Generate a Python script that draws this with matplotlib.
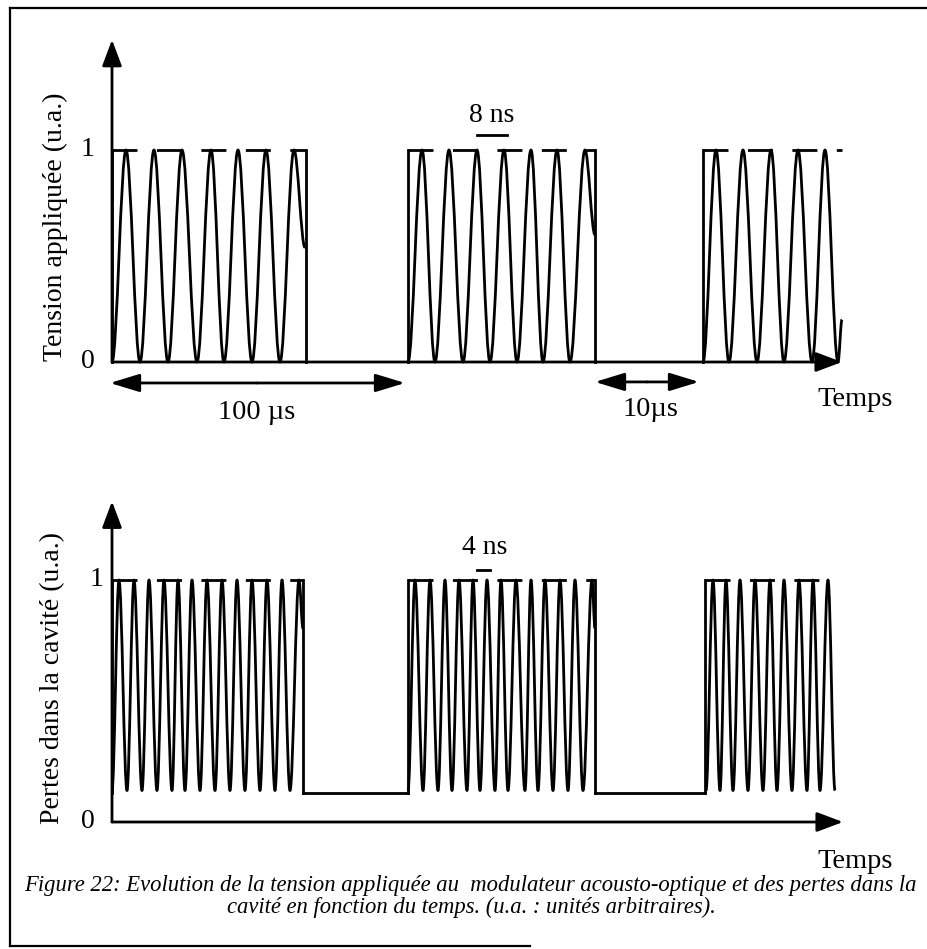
#!/usr/bin/env python3
"""
Figure 22 - tension appliquée au modulateur acousto-optique et pertes dans la cavité
(schéma, unités arbitraires)
"""

import matplotlib

matplotlib.use("Agg")
import matplotlib.pyplot as plt
from matplotlib.lines import Line2D
from matplotlib.patches import ArrowStyle, PathPatch
from matplotlib.path import Path

# --- données (temps en u.a., amplitude en u.a.) ---
# tension appliquée : sommets de la sinusoïde, bloc par bloc
top_t_1 = [0, 14, 28, 42, 56, 70, 85, 99, 112, 126, 140, 154, 168, 182, 193]
top_v_1 = [0, 1, 0, 1, 0, 1, 0, 1, 0, 1, 0, 1, 0, 1, 0.54]
top_t_2 = [296, 310, 323, 337, 351, 365, 378, 392, 405, 419, 431, 445, 458, 473, 483]
top_v_2 = [0, 1, 0, 1, 0, 1, 0, 1, 0, 1, 0, 1, 0, 1, 0.6]
top_t_3 = [591, 604, 617, 631, 645, 659, 672, 686, 700, 713, 726, 730]
top_v_3 = [0, 1, 0, 1, 0, 1, 0, 1, 0, 1, 0, 0.2]
top_gate_on = [0, 296, 591]
top_gate_off = [194, 483, 730]
top_low = 0.0

# pertes dans la cavité
bot_t_1 = [0, 7, 15, 22, 30, 37, 45, 52, 60, 66, 73, 80, 88, 95, 103, 110,
           118, 125, 133, 140, 148, 155, 163, 170, 178, 187, 191]
bot_v_1 = [0.13, 1, 0.13, 1, 0.13, 1, 0.13, 1, 0.13, 1, 0.13, 1, 0.13, 1,
           0.13, 1, 0.13, 1, 0.13, 1, 0.13, 1, 0.13, 1, 0.13, 1, 0.8]
bot_t_2 = [296, 303, 311, 318, 326, 333, 340, 347, 355, 361, 368, 375, 383,
           389, 396, 404, 413, 419, 426, 433, 441, 448, 456, 463, 471, 480, 483]
bot_v_2 = [0.13, 1, 0.13, 1, 0.13, 1, 0.13, 1, 0.13, 1, 0.13, 1, 0.13, 1,
           0.13, 1, 0.13, 1, 0.13, 1, 0.13, 1, 0.13, 1, 0.13, 1, 0.8]
bot_t_3 = [594, 601, 608, 614, 621, 628, 636, 643, 651, 658, 665, 672, 680,
           687, 695, 701, 708, 716, 723]
bot_v_3 = [0.13, 1, 0.13, 1, 0.13, 1, 0.13, 1, 0.13, 1, 0.13, 1, 0.13, 1,
           0.13, 1, 0.13, 1, 0.13]
bot_gate_on = [0, 296, 593]
bot_gate_off = [191, 483, 723]
bot_low = 0.12

TOP_YLABEL = "Tension appliquée (u.a.)"
BOT_YLABEL = "Pertes dans la cavité (u.a.)"
CAPTION_1 = ("Figure 22: Evolution de la tension appliquée au  modulateur "
             "acousto-optique et des pertes dans la")
CAPTION_2 = "cavité en fonction du temps. (u.a. : unités arbitraires)."

W, H, DPI = 928, 949, 100
SERIF = ["Liberation Serif", "DejaVu Serif"]
LW = 2.0
DASH = (0, (9, 7))
FS = 20


def make_panel(fig, py_top, py_bot, py_zero, py_one, px_origin):
    """axe couvrant toute la largeur, 1 u.a. de temps = 1 pixel"""
    ax = fig.add_axes([0, 1 - py_bot / H, 1, (py_bot - py_top) / H])
    scale = py_one - py_zero
    ax.set_xlim(-px_origin, W - px_origin)
    ax.set_ylim((py_bot - py_zero) / scale, (py_top - py_zero) / scale)
    ax.set_axis_off()
    return ax


def arrow(ax, xy_from, xy_to, style="-|>", hl=16, hw=6, lw=LW):
    ax.annotate(
        "",
        xy=xy_to,
        xytext=xy_from,
        arrowprops=dict(
            arrowstyle=ArrowStyle(style, head_length=hl, head_width=hw),
            mutation_scale=1,
            lw=lw,
            color="black",
            shrinkA=0,
            shrinkB=0,
        ),
        annotation_clip=False,
    )


def wave_path(t, v):
    """courbe lisse entre les extrema (tangentes horizontales, allure sinusoïdale)"""
    k = 0.3634
    verts = [(t[0], v[0])]
    codes = [Path.MOVETO]
    for i in range(1, len(t)):
        d = t[i] - t[i - 1]
        verts += [(t[i - 1] + k * d, v[i - 1]), (t[i] - k * d, v[i]), (t[i], v[i])]
        codes += [Path.CURVE4] * 3
    return Path(verts, codes)


def draw_signal(ax, blocks, gate_on, gate_off, low, last_cut=True):
    for t, v in blocks:
        ax.add_patch(
            PathPatch(wave_path(t, v), fill=False, lw=LW, edgecolor="black",
                      joinstyle="round", clip_on=False)
        )

    n = len(gate_on)
    for i, (on, off) in enumerate(zip(gate_on, gate_off)):
        # niveau haut en pointillés
        ax.plot([on, off], [1, 1], color="black", lw=LW, linestyle=DASH,
                clip_on=False)
        ax.plot([on, on], [low, 1], color="black", lw=LW, clip_on=False)
        if i < n - 1 or not last_cut:
            ax.plot([off, off], [low, 1], color="black", lw=LW, clip_on=False)
        # niveau bas entre deux blocs
        if i < n - 1 and low > 0:
            ax.plot([off, gate_on[i + 1]], [low, low], color="black", lw=LW,
                    clip_on=False)


def main():
    fig = plt.figure(figsize=(W / DPI, H / DPI), dpi=DPI)
    fig.patch.set_facecolor("white")

    # --- panneau du haut : tension appliquée ---
    ax1 = make_panel(fig, 0, 470, 362, 150, 112)
    arrow(ax1, (0, 0), (0, 1.52))
    arrow(ax1, (0, 0), (730, 0))
    draw_signal(
        ax1,
        [(top_t_1, top_v_1), (top_t_2, top_v_2), (top_t_3, top_v_3)],
        top_gate_on,
        top_gate_off,
        top_low,
    )
    ax1.text(-24, 1, "1", ha="center", va="center", fontsize=FS, family=SERIF)
    ax1.text(-24, 0, "0", ha="center", va="center", fontsize=FS, family=SERIF)
    ax1.text(-57, 0.64, TOP_YLABEL, rotation=90, ha="center", va="center",
             fontsize=FS, family=SERIF)

    # 8 ns
    ax1.text(380, 1.165, "8 ns", ha="center", va="center", fontsize=FS,
             family=SERIF)
    ax1.plot([365, 395], [1.07, 1.07], color="black", lw=LW, clip_on=False)

    # durées
    arrow(ax1, (145, -0.099), (-2, -0.099), style="-|>", hl=18, hw=5.5)
    arrow(ax1, (145, -0.099), (293, -0.099), style="-|>", hl=18, hw=5.5)
    ax1.text(145, -0.24, "100 µs", ha="center", va="center", fontsize=20.5,
             family=SERIF)
    arrow(ax1, (535, -0.094), (483, -0.094), style="-|>", hl=18, hw=5.5)
    arrow(ax1, (535, -0.094), (587, -0.094), style="-|>", hl=18, hw=5.5)
    ax1.text(538, -0.226, "10µs", ha="center", va="center", fontsize=20.5,
             family=SERIF)
    ax1.text(743, -0.179, "Temps", ha="center", va="center", fontsize=20.5,
             family=SERIF)

    # --- panneau du bas : pertes dans la cavité ---
    ax2 = make_panel(fig, 470, 949, 822, 580, 112)
    arrow(ax2, (0, 0), (0, 1.325))
    arrow(ax2, (0, 0), (731, 0))
    draw_signal(
        ax2,
        [(bot_t_1, bot_v_1), (bot_t_2, bot_v_2), (bot_t_3, bot_v_3)],
        bot_gate_on,
        bot_gate_off,
        bot_low,
    )
    ax2.text(-15, 1, "1", ha="center", va="center", fontsize=FS, family=SERIF)
    ax2.text(-24, 0, "0", ha="center", va="center", fontsize=FS, family=SERIF)
    ax2.text(-59, 0.595, BOT_YLABEL, rotation=90, ha="center", va="center",
             fontsize=FS, family=SERIF)

    # 4 ns
    ax2.text(373, 1.136, "4 ns", ha="center", va="center", fontsize=FS,
             family=SERIF)
    ax2.plot([365, 378], [1.041, 1.041], color="black", lw=LW, clip_on=False)
    ax2.text(743, -0.165, "Temps", ha="center", va="center", fontsize=20.5,
             family=SERIF)

    # --- cadre et légende ---
    def fx(px):
        return px / W

    def fy(py):
        return 1 - py / H

    frame = dict(color="black", lw=1.6, transform=fig.transFigure)
    fig.add_artist(Line2D([fx(10), fx(928)], [fy(8), fy(8)], **frame))
    fig.add_artist(Line2D([fx(10), fx(10)], [fy(8), fy(946)], **frame))
    fig.add_artist(Line2D([fx(10), fx(530)], [fy(946), fy(946)], **frame))

    fig.text(fx(470), fy(886), CAPTION_1, ha="center", va="center",
             fontsize=16.3, style="italic", family=SERIF)
    fig.text(fx(471), fy(907), CAPTION_2, ha="center", va="center",
             fontsize=16.3, style="italic", family=SERIF)

    fig.savefig("out.png", dpi=DPI, facecolor="white")


if __name__ == "__main__":
    main()
